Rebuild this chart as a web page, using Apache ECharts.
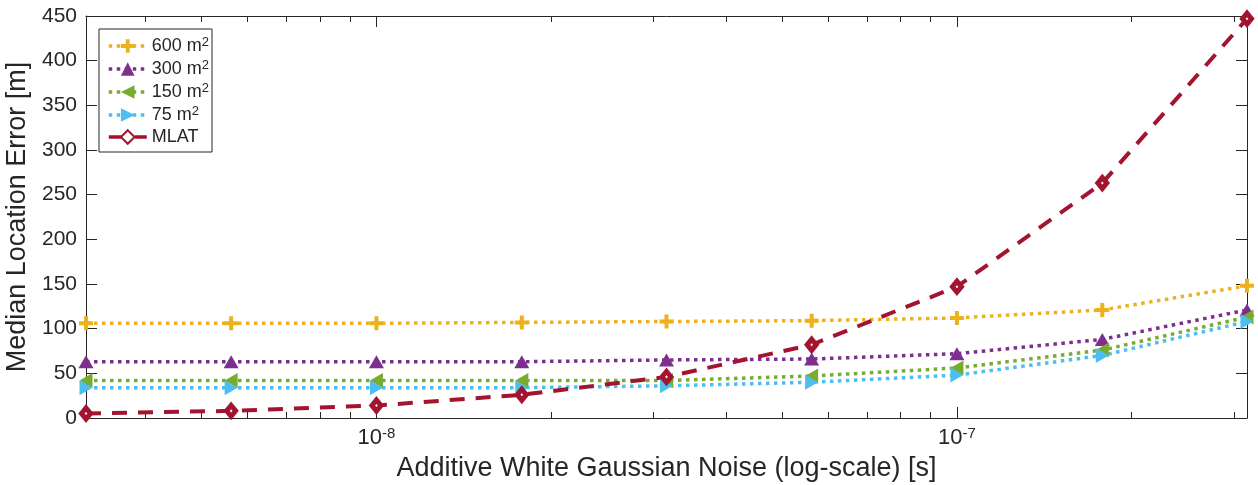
<!DOCTYPE html>
<html>
<head>
<meta charset="utf-8">
<script src="https://cdn.jsdelivr.net/npm/echarts@6/dist/echarts.min.js"></script>
<style>
  html, body { margin: 0; padding: 0; background: #fff; }
  #chart-container { width: 1258px; height: 485px; }
</style>
</head>
<body>
<div id="chart-container"></div>
<script>
var dom = document.getElementById('chart-container');
var myChart = echarts.init(dom, null, { renderer: 'canvas' });

// noise levels [s]
var noise = [3.16e-9, 5.62e-9, 1e-8, 1.78e-8, 3.16e-8, 5.62e-8, 1e-7, 1.78e-7, 3.16e-7];
// minor tick positions of the log axis
var minorTicks = [4e-9, 5e-9, 6e-9, 7e-9, 8e-9, 9e-9,
                  2e-8, 3e-8, 4e-8, 5e-8, 6e-8, 7e-8, 8e-8, 9e-8,
                  2e-7, 3e-7];
var seriesNames = ['600 m2', '300 m2', '150 m2', '75 m2', 'MLAT'];
var err600 = [106, 106, 106, 107, 108, 109, 112, 121, 148];
var err300 = [63, 63, 63, 63, 65, 66, 72, 88, 121];
var err150 = [42, 42, 42, 42, 42, 47, 56, 76, 113];
var err75 = [34, 34, 34, 34, 36, 40, 48, 70, 108];
var errMlat = [5, 8, 14, 26, 46, 82, 147, 263, 447];

var textColor = '#262626';
var font = 'Liberation Sans';
var plusPath = 'path://M5,0H9V5H14V9H9V14H5V9H0V5H5Z';
var dotted = [3.5, 4.5];

function pairs(ys) {
  return ys.map(function (v, i) { return [noise[i], v]; });
}

function lineSeries(name, ys, color, symbol, rotate, size, dash, width) {
  return {
    name: name,
    type: 'line',
    data: pairs(ys),
    symbol: symbol,
    symbolSize: size,
    symbolRotate: rotate,
    clip: false,
    lineStyle: { color: color, width: width, type: dash },
    itemStyle: { color: color },
    z: 3
  };
}

var lgX = Math.log10(noise[0]);
var hgX = Math.log10(noise[noise.length - 1]);
var minorLog = minorTicks.map(function (v) { return Math.log10(v); });

function majorLabel(v) {
  var e = Math.log10(v);
  var r = Math.round(e);
  if (Math.abs(e - r) > 0.01) return '';
  return '10{s|' + r + '}';
}

var majorAxisBase = {
  type: 'log',
  logBase: 10,
  min: noise[0],
  max: noise[noise.length - 1],
  axisLine: { show: true, lineStyle: { color: textColor, width: 1 } },
  axisTick: { show: true, inside: true, length: 11, lineStyle: { color: textColor, width: 1 } },
  splitLine: { show: false },
  minorTick: { show: false },
  minorSplitLine: { show: false }
};

function minorAxis(pos) {
  return {
    type: 'value',
    position: pos,
    min: lgX,
    max: hgX,
    axisLine: { show: false },
    axisLabel: { show: false },
    splitLine: { show: false },
    axisTick: {
      show: true, inside: true, length: 6,
      customValues: minorLog,
      lineStyle: { color: textColor, width: 1 }
    }
  };
}

var mlat = lineSeries('MLAT', errMlat, '#A2142F', 'diamond', 0, [9, 11], [15, 11], 4);
mlat.itemStyle = { color: '#fff', borderColor: '#A2142F', borderWidth: 5 };

var option = {
  animation: false,
  backgroundColor: '#fff',
  textStyle: { fontFamily: font, color: textColor },
  grid: { left: 86, right: 11, top: 16, bottom: 67, outerBoundsMode: 'none', containLabel: false },
  legend: {
    orient: 'vertical',
    left: 99,
    top: 29,
    padding: [7, 3, 6, 8],
    itemWidth: 38,
    itemHeight: 17,
    itemGap: 4,
    borderColor: textColor,
    borderWidth: 1,
    borderRadius: 0,
    backgroundColor: '#fff',
    lineStyle: { width: 3.5 },
    data: seriesNames,
    formatter: function (name) {
      var m = name.match(/^(\d+) m2$/);
      if (m) return '{t|' + m[1] + ' m}{sup|2}';
      return '{t|' + name + '}';
    },
    textStyle: {
      fontFamily: font,
      fontSize: 18,
      color: textColor,
      rich: {
        t: { fontSize: 18, lineHeight: 20, fontFamily: font, color: textColor },
        sup: { fontSize: 13, lineHeight: 12, verticalAlign: 'top', fontFamily: font, color: textColor }
      }
    }
  },
  xAxis: [
    Object.assign({}, majorAxisBase, {
      position: 'bottom',
      name: 'Additive White Gaussian Noise (log-scale) [s]',
      nameLocation: 'middle',
      nameGap: 35,
      nameTextStyle: { fontSize: 27, fontFamily: font, color: textColor },
      axisLabel: {
        show: true,
        margin: 8,
        fontSize: 22,
        lineHeight: 24,
        fontFamily: font,
        color: textColor,
        formatter: majorLabel,
        rich: {
          s: { fontSize: 15, lineHeight: 15, verticalAlign: 'top', fontFamily: font, color: textColor }
        }
      }
    }),
    minorAxis('bottom'),
    Object.assign({}, majorAxisBase, { position: 'top', axisLabel: { show: false } }),
    minorAxis('top')
  ],
  yAxis: [
    {
      type: 'value',
      position: 'left',
      min: 0,
      max: 450,
      interval: 50,
      name: 'Median Location Error [m]',
      nameLocation: 'middle',
      nameGap: 47,
      nameTextStyle: { fontSize: 27, fontFamily: font, color: textColor },
      axisLine: { show: true, lineStyle: { color: textColor, width: 1 } },
      axisTick: { show: true, inside: true, length: 11, lineStyle: { color: textColor, width: 1 } },
      axisLabel: { fontSize: 21, margin: 9, color: textColor, fontFamily: font },
      splitLine: { show: false }
    },
    {
      type: 'value',
      position: 'right',
      min: 0,
      max: 450,
      interval: 50,
      axisLine: { show: true, lineStyle: { color: textColor, width: 1 } },
      axisTick: { show: true, inside: true, length: 11, lineStyle: { color: textColor, width: 1 } },
      axisLabel: { show: false },
      splitLine: { show: false }
    }
  ],
  series: [
    lineSeries(seriesNames[0], err600, '#EDB120', plusPath, 0, 14, dotted, 3.5),
    lineSeries(seriesNames[1], err300, '#7E2F8E', 'triangle', 0, [15, 13], dotted, 3.5),
    lineSeries(seriesNames[2], err150, '#77AC30', 'triangle', 90, [15, 13], dotted, 3.5),
    lineSeries(seriesNames[3], err75, '#4DBEEE', 'triangle', -90, [15, 13], dotted, 3.5),
    mlat
  ]
};

myChart.setOption(option);
window.addEventListener('resize', myChart.resize);
</script>
</body>
</html>
